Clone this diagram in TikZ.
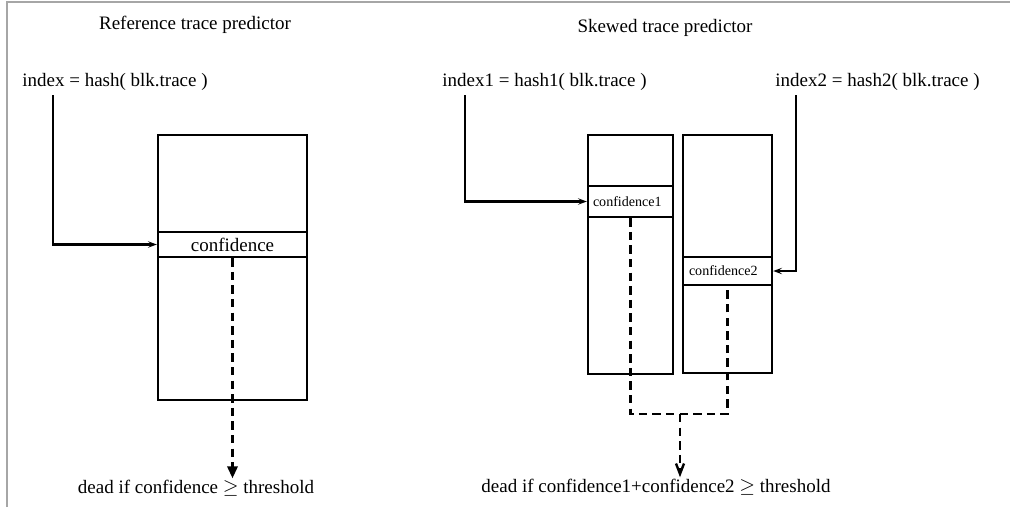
\documentclass[tikz,border=0pt]{standalone}
\usepackage{fontspec}
\setmainfont{Liberation Serif}
\usetikzlibrary{arrows.meta}

\begin{document}
\begin{tikzpicture}[
            x=0.025cm, y=-0.025cm,
            every node/.style={font=\fontsize{13.5}{16}\selectfont},
            txt/.style={inner sep=1pt},
            tbl/.style={rectangle, draw, line width=1.7pt, inner sep=0pt},
            slot/.style={rectangle, draw, line width=1.7pt, inner sep=0pt, align=center},
            small/.style={font=\fontsize{10}{12}\selectfont, align=left},
            ptr/.style={line width=1.6pt, -{Stealth[length=2.2mm, width=1.6mm, inset=0.9mm]}},
            flow/.style={line width=1.7pt, dash pattern=on 2.1mm off 1.3mm}
        ]
            \useasboundingbox (0,0) rectangle (1010,507);
            \draw[gray!70, line width=0.8pt] (7,507) -- (7,2) -- (1010,2);

            % Reference predictor
            \node[txt] (titleA) at (195,25) {Reference trace predictor};
            \node[txt] (hashA) at (115,82) {index = hash( blk.trace )};
            \node[tbl, minimum width=3.725cm, minimum height=6.625cm] (tabA) at (232.5,267.5) {};
            \node[slot, minimum width=3.725cm, minimum height=0.625cm] (confA) at (232.5,244.5) {confidence};
            \node[txt] (deadA) at (196,488) {dead if confidence $\geq$ threshold};

            % Skewed predictor
            \node[txt] (titleB) at (665,28) {Skewed trace predictor};
            \node[txt] (hashB1) at (544.5,82) {index1 = hash1( blk.trace )};
            \node[txt] (hashB2) at (877.5,82) {index2 = hash2( blk.trace )};
            \node[tbl, minimum width=2.125cm, minimum height=5.975cm] (tabB1) at (630.5,254.5) {};
            \node[tbl, minimum width=2.225cm, minimum height=5.95cm] (tabB2) at (727.5,254) {};
            \node[slot, small, minimum width=2.125cm, minimum height=0.775cm, text width=1.875cm] (confB1) at (630.5,201.5) {confidence1};
            \node[slot, small, minimum width=2.225cm, minimum height=0.7cm, text width=1.925cm] (confB2) at (727.5,271) {confidence2};
            \node[txt] (deadB) at (656,487) {dead if confidence1+confidence2 $\geq$ threshold};

            % Arrows
            \coordinate (hookA) at (53,95);
            \coordinate (hookB1) at (465,95);
            \coordinate (hookB2) at (796,95);
            \coordinate (join) at (680,414);

            \draw[ptr] (hookA) |- (confA.west);
            \draw[ptr] (hookB1) |- (confB1.west);
            \draw[ptr] (hookB2) |- (confB2.east);

            \draw[flow, -{Triangle[length=3mm, width=2.6mm]}] (confA.south) -- (confA.south |- deadA.north);
            \draw[flow] (confB1.south) |- (join) -| (confB2.south);
            \draw[flow, -{Straight Barb[length=2.6mm, width=2mm]}] (join) -- (join |- deadB.north);
        \end{tikzpicture}
\end{document}
